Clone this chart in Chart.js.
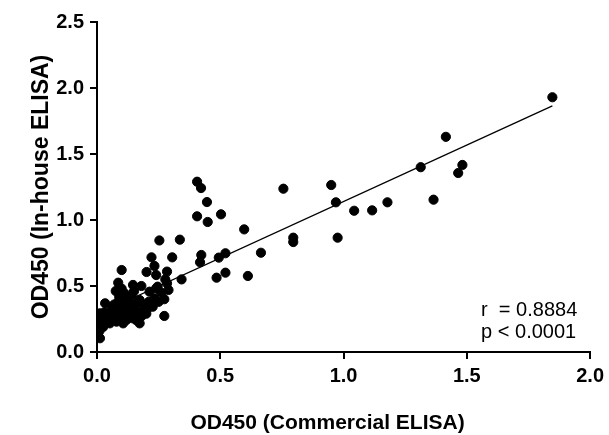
<!DOCTYPE html>
<html>
<head>
<meta charset="utf-8">
<script src="https://cdn.jsdelivr.net/npm/chart.js@4/dist/chart.umd.min.js"></script>
<style>
  html, body { margin: 0; padding: 0; background: #fff; }
  #wrap { width: 609px; height: 435px; }
</style>
</head>
<body>
<div id="wrap"><canvas id="chart" width="609" height="435"></canvas></div>
<script>
const commercialOD = [
  1.847, 1.415, 1.313, 1.482, 1.465, 1.365, 0.756, 0.950, 0.969, 1.043,
  1.116, 1.178, 0.796, 0.796, 0.976, 0.665, 0.612, 0.406, 0.422, 0.446,
  0.406, 0.449, 0.503, 0.597, 0.336, 0.253, 0.221, 0.305, 0.423, 0.418,
  0.494, 0.521, 0.100, 0.201, 0.233, 0.240, 0.284, 0.277, 0.284, 0.343,
  0.485, 0.521, 0.273, 0.273, 0.086, 0.146, 0.076, 0.033, 0.213, 0.240,
  0.012, 0.009, 0.005, 0.012, 0.112, 0.086, 0.133, 0.173, 0.233, 0.246,
  0.206, 0.186, 0.166, 0.146, 0.119, 0.106, 0.079, 0.052, 0.032, 0.052,
  0.079, 0.019, 0.173, 0.106, 0.226, 0.005, 0.008, 0.015, 0.020, 0.025,
  0.030, 0.040, 0.045, 0.060, 0.065, 0.070, 0.090, 0.095, 0.100, 0.110,
  0.120, 0.125, 0.130, 0.140, 0.150, 0.155, 0.160, 0.170, 0.180, 0.190,
  0.200, 0.210, 0.220, 0.070, 0.060, 0.090, 0.120, 0.140, 0.160, 0.030,
  0.010, 0.004, 0.100, 0.150, 0.180, 0.260, 0.250, 0.290
];
const inhouseOD = [
  1.930, 1.630, 1.400, 1.417, 1.356, 1.154, 1.237, 1.265, 1.134, 1.070,
  1.073, 1.134, 0.866, 0.833, 0.866, 0.752, 0.576, 1.290, 1.242, 1.136,
  1.028, 0.985, 1.043, 0.929, 0.851, 0.845, 0.717, 0.717, 0.735, 0.680,
  0.715, 0.748, 0.621, 0.606, 0.652, 0.583, 0.609, 0.550, 0.520, 0.550,
  0.563, 0.601, 0.400, 0.273, 0.525, 0.508, 0.462, 0.369, 0.457, 0.482,
  0.104, 0.180, 0.242, 0.293, 0.444, 0.381, 0.369, 0.394, 0.406, 0.495,
  0.331, 0.305, 0.280, 0.255, 0.242, 0.293, 0.305, 0.267, 0.242, 0.217,
  0.230, 0.205, 0.217, 0.217, 0.343, 0.210, 0.260, 0.230, 0.270, 0.190,
  0.300, 0.250, 0.280, 0.240, 0.300, 0.270, 0.260, 0.330, 0.250, 0.350,
  0.280, 0.310, 0.260, 0.300, 0.330, 0.270, 0.240, 0.300, 0.270, 0.350,
  0.290, 0.380, 0.360, 0.360, 0.340, 0.420, 0.400, 0.430, 0.370, 0.210,
  0.160, 0.130, 0.480, 0.460, 0.500, 0.450, 0.380, 0.470
];
// linear fit drawn in the figure
const fitX = [0, 1.847];
const fitY = [0.285, 1.864];

const xTitle = 'OD450 (Commercial ELISA)';
const yTitle = 'OD450 (In-house ELISA)';
const statLines = ['r  = 0.8884', 'p < 0.0001'];

const FONT = "'Liberation Sans', Arial, sans-serif";

const points = commercialOD.map((x, i) => ({ x: x, y: inhouseOD[i] }));
const fitLine = fitX.map((x, i) => ({ x: x, y: fitY[i] }));

const extraText = { // axis titles + r / p text
  id: 'extraText',
  afterDraw(chart) {
    const ctx = chart.ctx;
    const a = chart.chartArea;
    ctx.save();
    ctx.fillStyle = '#000';

    ctx.font = '20px ' + FONT;
    ctx.textBaseline = 'middle';
    ctx.textAlign = 'left';
    ctx.fillText(statLines[0], a.right - 109, a.bottom - 42);
    ctx.fillText(statLines[1], a.right - 109, a.bottom - 20);

    ctx.font = 'bold 21px ' + FONT;
    ctx.textAlign = 'center';
    ctx.textBaseline = 'alphabetic';
    ctx.fillText(xTitle, (a.left + a.right) / 2 - 16, 429);

    ctx.font = 'bold 23px ' + FONT;
    ctx.translate(48, (a.top + a.bottom) / 2);
    ctx.rotate(-Math.PI / 2);
    ctx.fillText(yTitle, 0, 0);
    ctx.restore();
  }
};

const axisBits = {
  grid: { display: true, drawOnChartArea: false, drawTicks: true, tickLength: 7, color: '#000', lineWidth: 2 },
  border: { display: true, color: '#000', width: 2 }
};

new Chart(document.getElementById('chart'), {
  type: 'scatter',
  data: {
    datasets: [
      {
        data: points,
        backgroundColor: '#000',
        borderColor: '#000',
        pointRadius: 4.6,
        pointHoverRadius: 4.6
      },
      {
        type: 'line',
        data: fitLine,
        borderColor: '#000',
        borderWidth: 1.3,
        pointRadius: 0,
        fill: false
      }
    ]
  },
  options: {
    responsive: false,
    animation: false,
    layout: { padding: { top: 22, right: 14, left: 0, bottom: 0 } },
    plugins: { legend: { display: false }, tooltip: { enabled: false } },
    scales: {
      x: Object.assign({
        type: 'linear',
        min: 0, max: 2.0,
        ticks: { stepSize: 0.5, color: '#000', padding: 5,
          font: { family: FONT, size: 20, weight: 'bold' },
          callback: v => v.toFixed(1) },
        title: { display: false },
        afterFit: s => { s.height = 83; }
      }, axisBits),
      y: Object.assign({
        type: 'linear',
        min: 0, max: 2.5,
        ticks: { stepSize: 0.5, color: '#000', padding: 6,
          font: { family: FONT, size: 20, weight: 'bold' },
          callback: v => v.toFixed(1) },
        title: { display: false },
        afterFit: s => { s.width = 97; }
      }, axisBits)
    }
  },
  plugins: [extraText]
});
</script>
</body>
</html>
